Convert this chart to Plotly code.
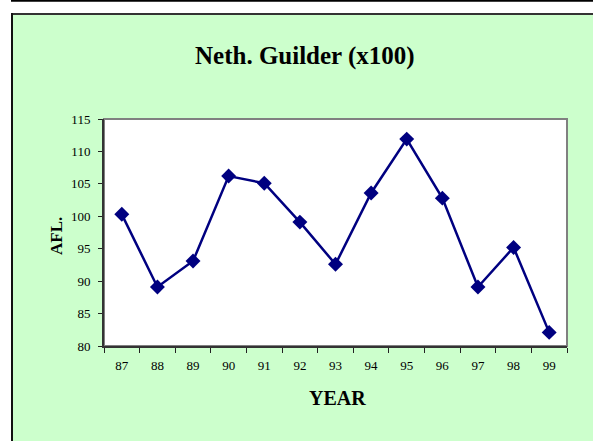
import plotly.graph_objects as go

years = ["87", "88", "89", "90", "91", "92", "93", "94", "95", "96", "97", "98", "99"]
afl = [100.3, 89.1, 93.1, 106.2, 105.1, 99.1, 92.6, 103.6, 111.9, 102.8, 89.1, 95.2, 82.1]
y_ticks = [80, 85, 90, 95, 100, 105, 110, 115]

W, H = 593, 441
L, R, T, B = 104, 26, 119, 95
PW, PH = W - L - R, H - T - B


def px_x(px):
    return (px - L) / PW


def px_y(py):
    return (H - B - py) / PH


serif = "Liberation Serif"
navy = "#000080"
green = "#CCFFCC"

fig = go.Figure()
fig.add_trace(go.Scatter(
    x=years, y=afl, mode="lines+markers",
    line=dict(color=navy, width=2.5),
    marker=dict(symbol="diamond", size=11.5, color=navy),
    cliponaxis=False, showlegend=False,
))

shapes = [
    # white margin above and left of the green panel
    dict(type="rect", xref="paper", yref="paper", layer="below",
         x0=px_x(-5), x1=px_x(W + 5), y0=px_y(13), y1=px_y(-5),
         fillcolor="#FFFFFF", line=dict(width=0)),
    dict(type="rect", xref="paper", yref="paper", layer="below",
         x0=px_x(-5), x1=px_x(11), y0=px_y(H + 5), y1=px_y(-5),
         fillcolor="#FFFFFF", line=dict(width=0)),
    # dark frame of the green panel (top and left edges)
    dict(type="line", xref="paper", yref="paper", layer="below",
         x0=px_x(11), x1=px_x(W + 5), y0=px_y(14), y1=px_y(14),
         line=dict(color="#333333", width=2)),
    dict(type="line", xref="paper", yref="paper", layer="below",
         x0=px_x(12), x1=px_x(12), y0=px_y(H + 5), y1=px_y(13),
         line=dict(color="#111111", width=2)),
    # rule along the top edge
    dict(type="line", xref="paper", yref="paper",
         x0=px_x(11), x1=px_x(W + 5), y0=px_y(0.8), y1=px_y(0.8),
         line=dict(color="#000000", width=2)),
    # grey plot-area frame
    dict(type="rect", xref="x domain", yref="y domain", layer="below",
         x0=0, x1=1, y0=0, y1=1, fillcolor="#FFFFFF",
         line=dict(color="#808080", width=2)),
]

text_common = dict(xref="paper", yref="paper", showarrow=False,
                   xanchor="center", yanchor="middle")
annotations = [
    dict(text="<b>Neth. Guilder (x100)</b>", x=px_x(305), y=px_y(56),
         font=dict(family=serif, size=25, color="#000000"), **text_common),
    dict(text="<b>YEAR</b>", x=px_x(337), y=px_y(398),
         font=dict(family=serif, size=20, color="#000000"), **text_common),
    dict(text="<b>AFL.</b>", textangle=-90, x=px_x(56), y=px_y(236),
         font=dict(family=serif, size=17, color="#000000"), **text_common),
]

fig.update_layout(
    width=W, height=H,
    margin=dict(l=L, r=R, t=T, b=B, pad=0),
    paper_bgcolor=green, plot_bgcolor="rgba(0,0,0,0)",
    shapes=shapes, annotations=annotations,
    font=dict(family=serif, size=13, color="#000000"),
)
fig.update_xaxes(
    type="category", range=[-0.5, 12.5], tickson="boundaries",
    ticks="outside", ticklen=5, tickcolor="#222222", ticklabelstandoff=6,
    showline=True, linecolor="#333333", linewidth=2,
    showgrid=False, zeroline=False, tickfont=dict(family=serif, size=13),
)
fig.update_yaxes(
    range=[80, 115], tickvals=y_ticks, ticks="outside", ticklen=4,
    tickcolor="#222222", ticklabelstandoff=5,
    showline=True, linecolor="#333333", linewidth=2,
    showgrid=False, zeroline=False, tickfont=dict(family=serif, size=13),
)

fig.write_html("out.html")
